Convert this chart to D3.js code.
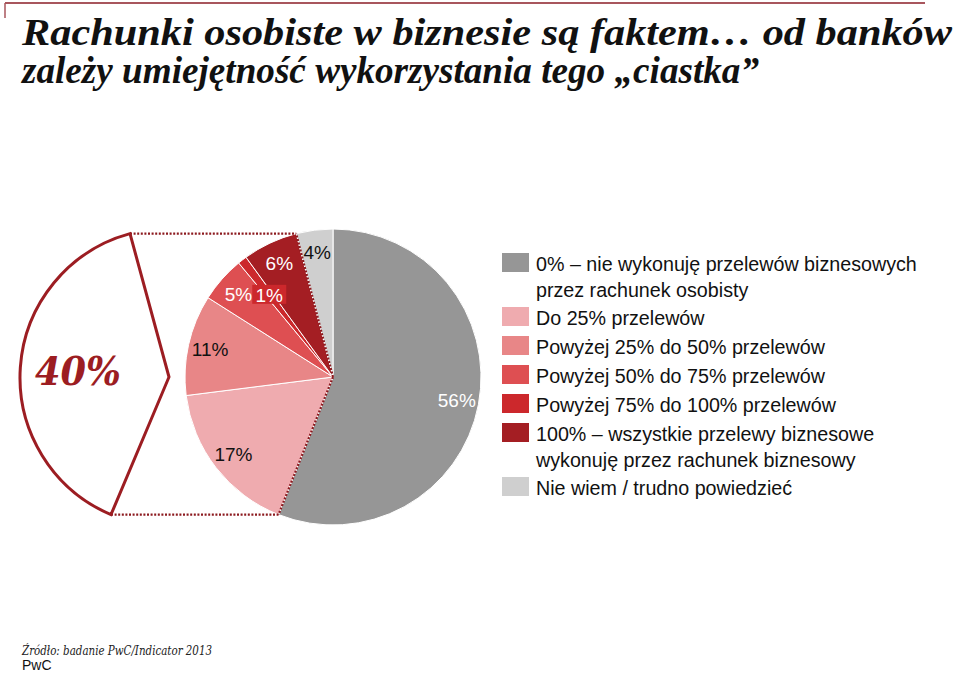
<!DOCTYPE html>
<html>
<head>
<meta charset="utf-8">
<script src="https://cdn.jsdelivr.net/npm/d3@7"></script>
<style>
  html, body { margin: 0; padding: 0; background: #ffffff; }
  svg { display: block; }
</style>
</head>
<body>
<svg id="chart" width="960" height="674"></svg>
<script>
// ---------- data ----------
const titleLines = [
  "Rachunki osobiste w biznesie są faktem… od banków",
  "zależy umiejętność wykorzystania tego „ciastka”"
];
const categories = [
  ["0% – nie wykonuję przelewów biznesowych", "przez rachunek osobisty"],
  ["Do 25% przelewów"],
  ["Powyżej 25% do 50% przelewów"],
  ["Powyżej 50% do 75% przelewów"],
  ["Powyżej 75% do 100% przelewów"],
  ["100% – wszystkie przelewy biznesowe", "wykonuję przez rachunek biznesowy"],
  ["Nie wiem / trudno powiedzieć"]
];
const values = [56, 17, 11, 5, 1, 6, 4];
const groupedIndices = [1, 2, 3, 4, 5];   // slices summed in the 40% callout
const groupLabel = "40%";
const sourceText = "Źródło: badanie PwC/Indicator 2013";
const brandText = "PwC";

// ---------- styles ----------
const palette = ["#969696", "#efabaf", "#e88687", "#de4f52", "#cc282c", "#a41e23", "#cfcfcf"];
const labelColors = ["#ffffff", "#111111", "#111111", "#ffffff", "#ffffff", "#ffffff", "#111111"];
const accent = "#9c1d22";

const svg = d3.select("#chart");

// top rule
svg.append("line").attr("x1", 5).attr("x2", 925).attr("y1", 3).attr("y2", 3)
  .attr("stroke", "#a8565d").attr("stroke-width", 2);
svg.append("line").attr("x1", 5).attr("x2", 5).attr("y1", 3).attr("y2", 18)
  .attr("stroke", "#a8565d").attr("stroke-width", 1.5);

// title: fit each line to its target width without overflowing
const titleLengths = [930, 737];
svg.selectAll("text.title").data(titleLines).join("text")
  .attr("class", "title")
  .attr("x", 22)
  .attr("y", (d, i) => 45 + i * 38)
  .style("font-family", "'Liberation Serif', 'DejaVu Serif', serif")
  .style("font-weight", "bold")
  .style("font-style", "italic")
  .style("font-size", "37px")
  .attr("fill", "#111")
  .text(d => d)
  .each(function(d, i) {
    const natural = this.getComputedTextLength();
    if (natural > titleLengths[i]) {
      d3.select(this).style("font-size", (37 * titleLengths[i] / natural) + "px");
    } else {
      d3.select(this).attr("textLength", titleLengths[i]).attr("lengthAdjust", "spacingAndGlyphs");
    }
  });

// ---------- pie ----------
const cx = 333, cy = 377, R = 148;
const g = svg.append("g").attr("transform", `translate(${cx},${cy})`);
const color = d3.scaleOrdinal().domain(d3.range(values.length)).range(palette);

const pie = d3.pie().sort(null).value(d => d).startAngle(0).endAngle(2 * Math.PI);
const arcs = pie(values);
const arc = d3.arc().innerRadius(0).outerRadius(R);

g.selectAll("path.slice").data(arcs).join("path")
  .attr("class", "slice")
  .attr("d", arc)
  .attr("fill", (d, i) => color(i))
  .attr("stroke", "#ffffff")
  .attr("stroke-width", 1);

// grouped slices boundaries
const a0 = arcs[groupedIndices[0]].startAngle;
const a1 = arcs[groupedIndices[groupedIndices.length - 1]].endAngle;
const pt = a => [Math.sin(a) * R, -Math.cos(a) * R];
const pStart = pt(a0), pEnd = pt(a1);

const dotStyle = sel => sel.attr("stroke", "#8c1a1f").attr("stroke-width", 2.2)
  .attr("stroke-dasharray", "2,1.6").attr("fill", "none");

g.append("line").attr("x1", 0).attr("y1", 0).attr("x2", pStart[0]).attr("y2", pStart[1]).call(dotStyle);
g.append("line").attr("x1", 0).attr("y1", 0).attr("x2", pEnd[0]).attr("y2", pEnd[1]).call(dotStyle);

// labels
const labelArc = d3.arc().innerRadius(126).outerRadius(126);
const smallArc = d3.arc().innerRadius(104).outerRadius(104);
const labels = g.selectAll("g.lab").data(arcs).join("g").attr("class", "lab")
  .attr("transform", d => {
    const c = (d.value < 2 ? smallArc : labelArc).centroid(d);
    return `translate(${c[0]},${c[1]})`;
  });
labels.each(function(d, i) {
  const sel = d3.select(this);
  if (d.value < 2) {
    sel.append("rect").attr("x", -17).attr("y", -10).attr("width", 34).attr("height", 19)
      .attr("fill", color(i));
  }
  sel.append("text")
    .attr("text-anchor", "middle")
    .attr("dy", "0.36em")
    .style("font-family", "'Liberation Sans', Arial, sans-serif")
    .style("font-size", "19px")
    .attr("fill", labelColors[i])
    .text(d.value + "%");
});

// ---------- 40% callout ----------
const yTop = cy + pEnd[1], yBot = cy + pStart[1];
const topPt = [130, yTop], botPt = [111, yBot], tipPt = [169, cy], leftPt = [20, cy];

svg.append("line").attr("x1", topPt[0]).attr("y1", yTop).attr("x2", cx + pEnd[0]).attr("y2", yTop).call(dotStyle);
svg.append("line").attr("x1", botPt[0]).attr("y1", yBot).attr("x2", cx + pStart[0]).attr("y2", yBot).call(dotStyle);

function circumRadius(p1, p2, p3) {
  const a = Math.hypot(p2[0] - p3[0], p2[1] - p3[1]);
  const b = Math.hypot(p1[0] - p3[0], p1[1] - p3[1]);
  const c = Math.hypot(p1[0] - p2[0], p1[1] - p2[1]);
  const area = Math.abs((p2[0] - p1[0]) * (p3[1] - p1[1]) - (p3[0] - p1[0]) * (p2[1] - p1[1])) / 2;
  return a * b * c / (4 * area);
}
const rr = circumRadius(topPt, leftPt, botPt);
svg.append("path")
  .attr("d", `M${topPt}L${tipPt}L${botPt}A${rr},${rr} 0 0 1 ${topPt}Z`)
  .attr("fill", "#ffffff")
  .attr("stroke", accent)
  .attr("stroke-width", 3)
  .attr("stroke-linejoin", "miter");

svg.append("text")
  .attr("x", 35).attr("y", 385)
  .attr("textLength", 86).attr("lengthAdjust", "spacingAndGlyphs")
  .style("font-family", "'DejaVu Serif', 'Liberation Serif', serif")
  .style("font-weight", "bold").style("font-style", "italic")
  .style("font-size", "40px")
  .attr("fill", accent)
  .text(groupLabel);

// ---------- legend ----------
const legend = svg.append("g").attr("transform", "translate(502,0)");
let yCur = 262.5;
categories.forEach((lines, i) => {
  const item = legend.append("g").attr("transform", `translate(0,${yCur})`);
  item.append("rect").attr("x", 0).attr("y", -9.5).attr("width", 27).attr("height", 19)
    .attr("fill", color(i));
  lines.forEach((t, j) => {
    item.append("text")
      .attr("x", 34).attr("y", j * 26 + 1.5)
      .attr("dy", "0.36em")
      .style("font-family", "'Liberation Sans', Arial, sans-serif")
      .style("font-size", "19.7px")
      .attr("fill", "#111")
      .text(t);
  });
  yCur += 29 + (lines.length - 1) * 25;
});

// ---------- footer ----------
svg.append("text").attr("x", 22).attr("y", 655)
  .attr("textLength", 190).attr("lengthAdjust", "spacingAndGlyphs")
  .style("font-family", "'DejaVu Serif', 'Liberation Serif', serif")
  .style("font-style", "italic").style("font-size", "13px")
  .attr("fill", "#222").text(sourceText);
svg.append("text").attr("x", 22).attr("y", 670)
  .style("font-family", "'Liberation Sans', Arial, sans-serif")
  .style("font-size", "14px")
  .attr("fill", "#111").text(brandText);
</script>
</body>
</html>
